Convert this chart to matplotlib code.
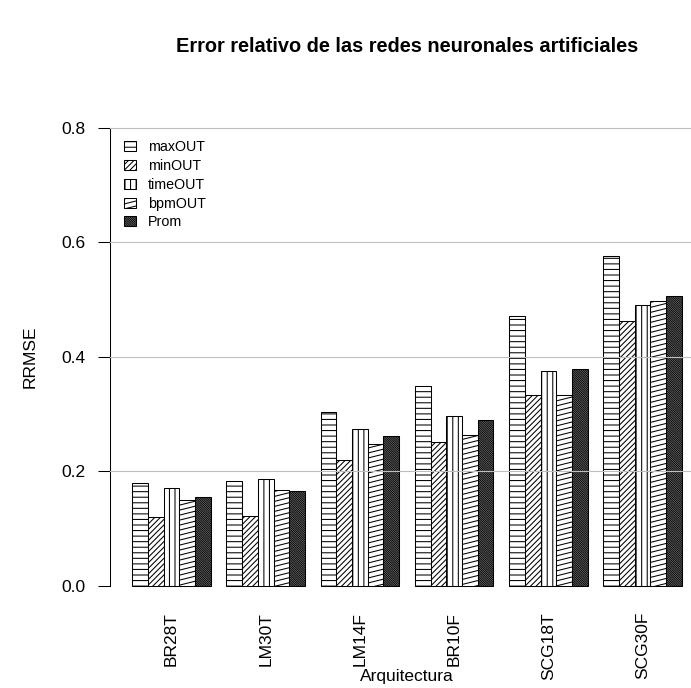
import warnings
warnings.filterwarnings("ignore")
import numpy as np
import matplotlib
matplotlib.use("Agg")
import matplotlib.pyplot as plt
from matplotlib import hatch as mhatch
from matplotlib.path import Path
from matplotlib.patches import Patch

# ---------------- data ----------------
categories = ["BR28T", "LM30T", "LM14F", "BR10F", "SCG18T", "SCG30F"]
series_names = ["maxOUT", "minOUT", "timeOUT", "bpmOUT", "Prom"]
maxOUT = [0.179, 0.183, 0.303, 0.349, 0.471, 0.577]
minOUT = [0.120, 0.121, 0.219, 0.251, 0.333, 0.463]
timeOUT = [0.170, 0.187, 0.274, 0.296, 0.376, 0.490]
bpmOUT = [0.149, 0.167, 0.247, 0.263, 0.333, 0.497]
Prom = [0.155, 0.165, 0.261, 0.290, 0.379, 0.507]
yticks = [0.0, 0.2, 0.4, 0.6, 0.8]
ytick_labels = ["0.0", "0.2", "0.4", "0.6", "0.8"]
grid_levels = [0.2, 0.4, 0.6, 0.8]

title = "Error relativo de las redes neuronales artificiales"
xlabel = "Arquitectura"
ylabel = "RRMSE"


# custom shallow-angle hatch (like R's angle ~15 degrees)
class ShallowHatch(mhatch.HatchPatternBase):
    def __init__(self, hatch, density):
        c = hatch.count('z')
        self.n = 20 * c
        if c:
            self.ks = np.arange(-self.n // 4, self.n)
        else:
            self.ks = np.arange(0)
        self.num_lines = len(self.ks)
        self.num_vertices = self.num_lines * 2

    def set_vertices_and_codes(self, vertices, codes):
        y0 = self.ks / self.n
        vertices[0::2, 0] = 0.0
        vertices[0::2, 1] = y0
        vertices[1::2, 0] = 1.0
        vertices[1::2, 1] = y0 + 0.25
        codes[0::2] = Path.MOVETO
        codes[1::2] = Path.LINETO


mhatch._hatch_types.append(ShallowHatch)

plt.rcParams['font.family'] = ['Liberation Sans', 'DejaVu Sans']
plt.rcParams['hatch.linewidth'] = 0.75
plt.rcParams['hatch.color'] = 'black'

W, H = 691, 688
fig = plt.figure(figsize=(W / 100, H / 100), dpi=100)

# plot region in pixels (R style, extends past right edge)
left_px, right_px = 110.3, 703.8
top_px, bot_px = 109.7, 604.0
ax = fig.add_axes([left_px / W, 1 - bot_px / H,
                   (right_px - left_px) / W, (bot_px - top_px) / H])

hatches = ['---', '//////', '|||', 'z', '\\' * 18]
values = [maxOUT, minOUT, timeOUT, bpmOUT, Prom]
ngroups = len(categories)
nser = len(series_names)

for s in range(nser):
    xs = [1 + (nser + 1) * g + s + 0.5 for g in range(ngroups)]
    ax.bar(xs, values[s], width=1.0, facecolor='white', edgecolor='black',
           linewidth=0.75, hatch=hatches[s], zorder=2)

for lv in grid_levels:
    ax.axhline(lv, color='#bebebe', linewidth=0.8, zorder=3)

ax.set_xlim(-0.4, 37.4)
ax.set_ylim(-0.032, 0.832)

centers = [1 + (nser + 1) * g + nser / 2 for g in range(ngroups)]
ax.set_xticks(centers)
ax.set_xticklabels(categories, rotation=90, fontsize=12.5)
ax.tick_params(axis='x', length=0, pad=5.8)

ax.set_yticks(yticks)
ax.set_yticklabels(ytick_labels, fontsize=12.5)
ax.tick_params(axis='y', length=9, width=0.75, pad=9, direction='out')

for sp in ['top', 'right', 'bottom']:
    ax.spines[sp].set_visible(False)
ax.spines['left'].set_bounds(0, 0.8)
ax.spines['left'].set_linewidth(0.75)
ax.patch.set_visible(False)

fig.text(0.5 * (left_px + right_px) / W, 1 - 47 / H, title, ha='center',
         va='center', fontsize=14.4, fontweight='bold')
fig.text(0.5 * (left_px + right_px) / W, 1 - 677 / H, xlabel, ha='center',
         va='center', fontsize=12.5)
fig.text(30 / W, 1 - 357 / H, ylabel, ha='center', va='center',
         rotation=90, fontsize=12.5)

handles = [Patch(facecolor='white', edgecolor='black', linewidth=0.75,
                 hatch=hatches[s]) for s in range(nser)]
ax.legend(handles, series_names, loc='upper left',
          bbox_to_anchor=(124 / W, 1 - 140 / H), bbox_transform=fig.transFigure,
          frameon=False, fontsize=10.3, handlelength=0.85, handleheight=0.7,
          handletextpad=0.8, labelspacing=0.34, borderpad=0, borderaxespad=0)

fig.savefig("out.png", dpi=100)
